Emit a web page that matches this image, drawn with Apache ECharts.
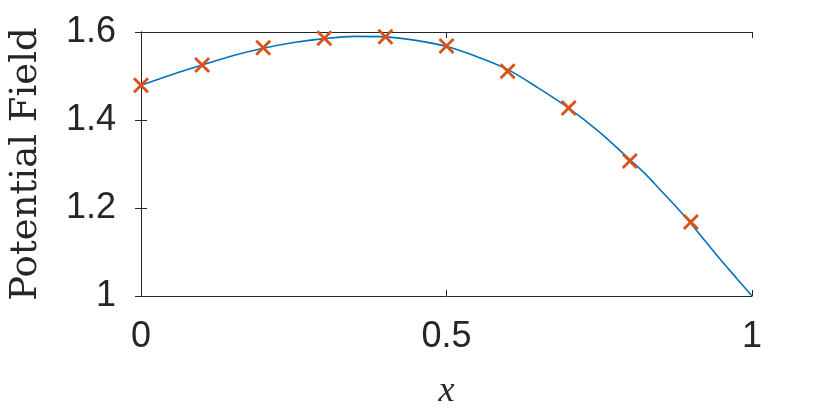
<!DOCTYPE html>
<html>
<head>
<meta charset="utf-8">
<script src="https://cdn.jsdelivr.net/npm/echarts@6/dist/echarts.min.js"></script>
<style>html,body{margin:0;padding:0;background:#fff;}#c{width:830px;height:415px;}</style>
</head>
<body>
<div id="c"></div>
<script>
const lineX = [0,0.05,0.1,0.15,0.2,0.25,0.3,0.35,0.4,0.45,0.5,0.55,0.6,0.65,0.7,0.75,0.8,0.825,0.85,0.875,0.9,0.925,0.95,0.975,1.0];
const lineY = [1.479,1.503,1.525,1.546,1.563,1.576,1.585,1.590,1.589,1.581,1.567,1.544,1.515,1.473,1.427,1.373,1.310,1.278,1.241,1.204,1.165,1.122,1.080,1.040,1.0];
const markX = [0,0.1,0.2,0.3,0.4,0.5,0.6,0.7,0.8,0.9];
const markY = [1.479,1.525,1.564,1.586,1.589,1.568,1.511,1.427,1.307,1.168];
const xTicks = [0,0.5,1];
const yTicks = [1,1.2,1.4,1.6];

const axisCol = '#262626';
const chart = echarts.init(document.getElementById('c'));
const baseAxis = {
  axisLine:{show:true,lineStyle:{color:axisCol,width:1}},
  axisTick:{show:true,inside:true,length:6,lineStyle:{color:axisCol,width:1}},
  splitLine:{show:false}
};
const crossPath = 'path://M0,2.5L2.5,0L10,7.5L17.5,0L20,2.5L12.5,10L20,17.5L17.5,20L10,12.5L2.5,20L0,17.5L7.5,10Z';
chart.setOption({
  animation:false,
  grid:{left:137,right:78,top:32,bottom:119},
  xAxis:[
    Object.assign({},baseAxis,{type:'value',min:0,max:1,interval:0.5,position:'bottom',
      axisLabel:{color:axisCol,fontSize:36,fontFamily:'Liberation Sans, Arial',margin:23,
        formatter:v=>xTicks.includes(v)?String(v):''},
      name:'x',nameLocation:'middle',nameGap:78,
      nameTextStyle:{fontFamily:'Liberation Serif, serif',fontStyle:'italic',fontSize:36,color:axisCol}}),
    Object.assign({},baseAxis,{type:'value',min:0,max:1,interval:0.5,position:'top',axisLabel:{show:false}})
  ],
  yAxis:[
    Object.assign({},baseAxis,{type:'value',min:1,max:1.6,interval:0.2,position:'left',
      axisLabel:{color:axisCol,fontSize:36,fontFamily:'Liberation Sans, Arial',margin:25,
        formatter:v=>{const r=Math.round(v*10)/10;return yTicks.includes(r)?String(r):'';}},
      name:'Potential Field',nameLocation:'middle',nameGap:96,nameRotate:90,
      nameTextStyle:{fontFamily:'DejaVu Serif, serif',fontSize:37,color:axisCol}}),
    Object.assign({},baseAxis,{type:'value',min:1,max:1.6,interval:0.2,position:'right',axisLabel:{show:false}})
  ],
  series:[
    {type:'line',xAxisIndex:0,yAxisIndex:0,data:lineX.map((x,i)=>[x,lineY[i]]),
     showSymbol:false,smooth:0.3,lineStyle:{color:'#0072BD',width:1.6},z:2},
    {type:'scatter',xAxisIndex:0,yAxisIndex:0,data:markX.map((x,i)=>[x,markY[i]]),
     symbol:crossPath,symbolSize:16,
     itemStyle:{color:'#D95319',borderWidth:0,opacity:1},z:3}
  ]
});
</script>
</body>
</html>
